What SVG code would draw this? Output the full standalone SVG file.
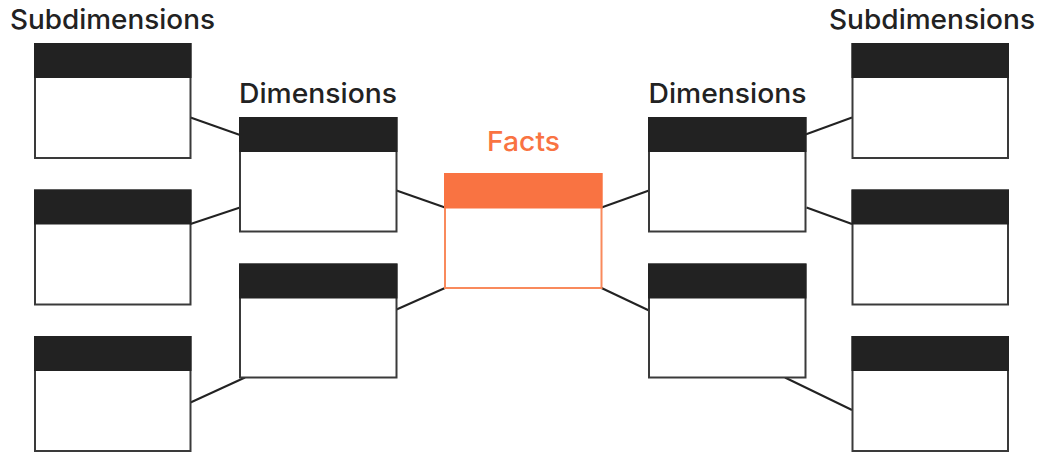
<svg xmlns="http://www.w3.org/2000/svg" width="1041" height="452" viewBox="0 0 1041 452">
  <style>
    .title { font-family: Inter, Lato, "Noto Sans", sans-serif; font-size: 27.5px; font-weight: 500; fill: #222222; text-anchor: middle; }
    .facts-title { fill: #F97342; }
    .box { fill: #ffffff; stroke: #3a3a3a; stroke-width: 2; }
    .head { fill: #222222; }
    .fact-box { fill: #ffffff; stroke: #F98A5C; stroke-width: 2; }
    .fact-head { fill: #F97342; }
    .link { stroke: #222222; stroke-width: 2; fill: none; stroke-linecap: butt; }
  </style>

  <!-- headings -->
  <text class="title" x="112.5" y="28.5" textLength="205" lengthAdjust="spacingAndGlyphs">Subdimensions</text>
  <text class="title" x="318" y="102.5" textLength="158" lengthAdjust="spacingAndGlyphs">Dimensions</text>
  <text class="title facts-title" x="523.5" y="150.5" textLength="73" lengthAdjust="spacingAndGlyphs">Facts</text>
  <text class="title" x="727.5" y="102.5" textLength="158" lengthAdjust="spacingAndGlyphs">Dimensions</text>
  <text class="title" x="932" y="28.5" textLength="206" lengthAdjust="spacingAndGlyphs">Subdimensions</text>

  <!-- connectors -->
  <g id="connectors">
    <line class="link" x1="190.5" y1="117.5" x2="240" y2="135"/>
    <line class="link" x1="190.5" y1="224" x2="240" y2="207.5"/>
    <line class="link" x1="190.5" y1="402.5" x2="245" y2="377.5"/>
    <line class="link" x1="396.5" y1="190.5" x2="445" y2="207.5"/>
    <line class="link" x1="396.5" y1="309.5" x2="445" y2="288"/>
    <line class="link" x1="601.5" y1="207.5" x2="649" y2="190.5"/>
    <line class="link" x1="601.5" y1="288" x2="649" y2="310.5"/>
    <line class="link" x1="805.5" y1="134.5" x2="852" y2="117.5"/>
    <line class="link" x1="806.5" y1="207.5" x2="852" y2="224"/>
    <line class="link" x1="785" y1="377.5" x2="852" y2="410"/>
  </g>

  <!-- left subdimensions -->
  <g id="sub-left-1">
    <rect class="box" x="35" y="44" width="155.5" height="114"/>
    <rect class="head" x="34" y="43" width="157.5" height="35"/>
  </g>
  <g id="sub-left-2">
    <rect class="box" x="35" y="190.5" width="155.5" height="114"/>
    <rect class="head" x="34" y="189.5" width="157.5" height="35"/>
  </g>
  <g id="sub-left-3">
    <rect class="box" x="35" y="337" width="155.5" height="114"/>
    <rect class="head" x="34" y="336" width="157.5" height="35"/>
  </g>

  <!-- left dimensions -->
  <g id="dim-left-1">
    <rect class="box" x="240" y="118" width="156.5" height="113.5"/>
    <rect class="head" x="239" y="117" width="158.5" height="35"/>
  </g>
  <g id="dim-left-2">
    <rect class="box" x="240" y="264.5" width="156.5" height="113"/>
    <rect class="head" x="239" y="263.5" width="158.5" height="35"/>
  </g>

  <!-- facts -->
  <g id="facts">
    <rect class="fact-box" x="445" y="174" width="156.5" height="114"/>
    <rect class="fact-head" x="444" y="173" width="158.5" height="35.5"/>
  </g>

  <!-- right dimensions -->
  <g id="dim-right-1">
    <rect class="box" x="649" y="118" width="156.5" height="113.5"/>
    <rect class="head" x="648" y="117" width="158.5" height="35"/>
  </g>
  <g id="dim-right-2">
    <rect class="box" x="649" y="264.5" width="156.5" height="113"/>
    <rect class="head" x="648" y="263.5" width="158.5" height="35"/>
  </g>

  <!-- right subdimensions -->
  <g id="sub-right-1">
    <rect class="box" x="852.5" y="44" width="155.5" height="114"/>
    <rect class="head" x="851.5" y="43" width="157.5" height="35"/>
  </g>
  <g id="sub-right-2">
    <rect class="box" x="852.5" y="190.5" width="155.5" height="114"/>
    <rect class="head" x="851.5" y="189.5" width="157.5" height="35"/>
  </g>
  <g id="sub-right-3">
    <rect class="box" x="852.5" y="337" width="155.5" height="114"/>
    <rect class="head" x="851.5" y="336" width="157.5" height="35"/>
  </g>
</svg>
